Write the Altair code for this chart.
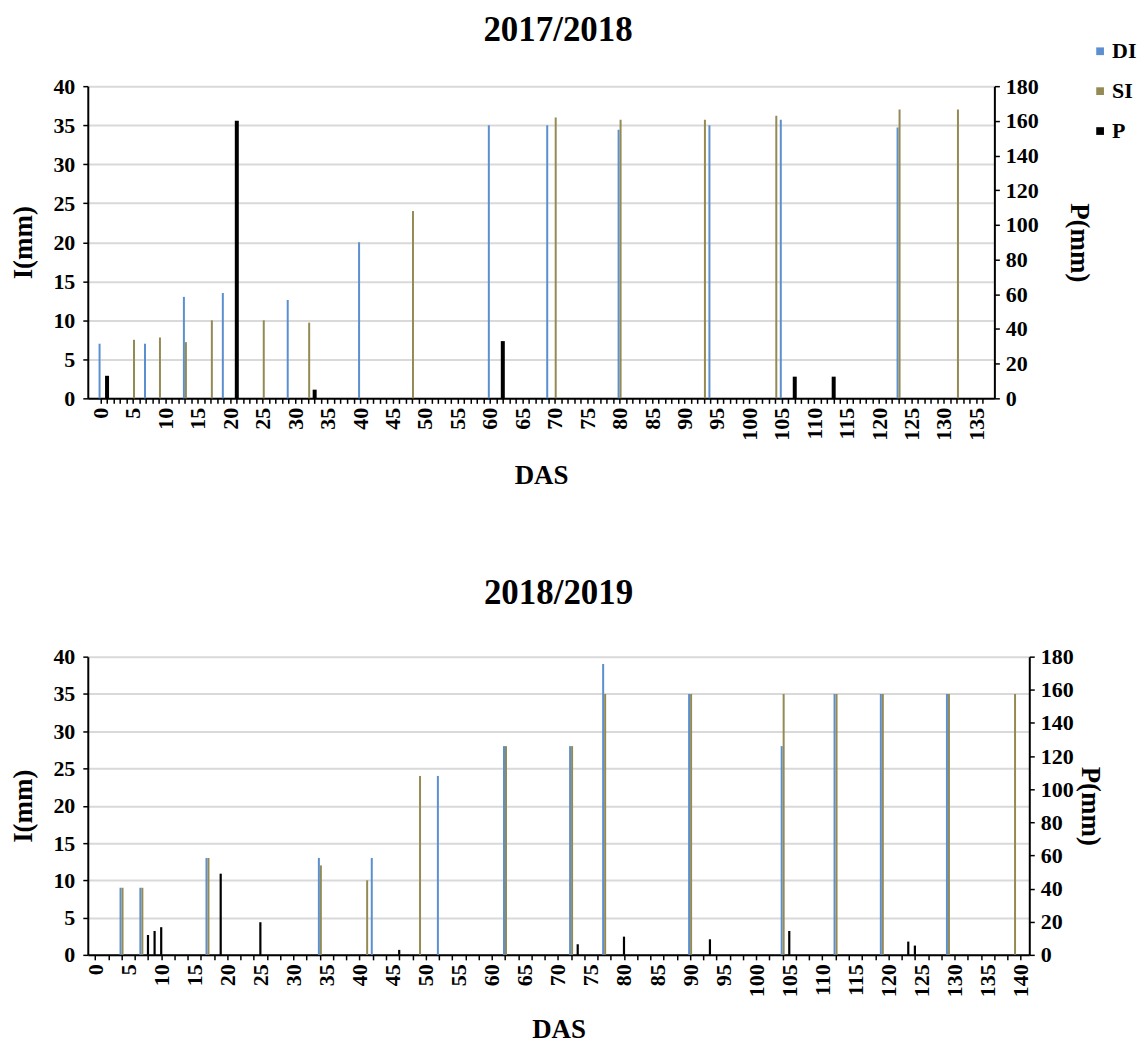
import altair as alt
import pandas as pd

FONT = "Liberation Serif"
DI_COLOR = "#5B8FD0"
SI_COLOR = "#948A54"
P_COLOR = "#000000"
GRID = "#D9D9D9"

# ---------------- 2017/2018 ----------------
di1_days = [0, 7, 13, 19, 29, 40, 60, 69, 80, 94, 105, 123]
di1_vals = [7, 7, 13, 13.5, 12.6, 20, 35, 35, 34.4, 35, 35.7, 34.7]
si1_days = [5, 9, 13, 17, 25, 32, 48, 70, 80, 93, 104, 123, 132]
si1_vals = [7.5, 7.8, 7.2, 10, 10, 9.7, 24, 36, 35.7, 35.7, 36.2, 37, 37]
p1_days = [1, 21, 33, 62, 107, 113]
p1_vals = [13, 160, 5, 33, 12.5, 12.5]

# ---------------- 2018/2019 ----------------
di2_days = [4, 7, 17, 34, 42, 52, 62, 72, 77, 90, 104, 112, 119, 129]
di2_vals = [9, 9, 13, 13, 13, 24, 28, 28, 39, 35, 28, 35, 35, 35]
si2_days = [4, 7, 17, 34, 41, 49, 62, 72, 77, 90, 104, 112, 119, 129, 139]
si2_vals = [9, 9, 13, 12, 10, 24, 28, 28, 35, 35, 35, 35, 35, 35, 35]
p2_days = [8, 9, 10, 19, 25, 46, 73, 80, 93, 105, 123, 124]
p2_vals = [12, 14.4, 16.7, 49, 19.7, 3, 6.4, 11, 9.4, 14.4, 8, 5.6]

series_names = ["DI", "SI", "P"]
series_colors = [DI_COLOR, SI_COLOR, P_COLOR]
i_ticks = list(range(0, 41, 5))
p_ticks = list(range(0, 181, 20))

LBL = dict(labelFont=FONT, labelFontSize=22, labelFontWeight="bold", labelColor="black",
           titleFont=FONT, titleFontSize=27, titleFontWeight="bold", titleColor="black")


def panel(title, di_days, di_vals, si_days, si_vals, p_days, p_vals,
          width, height, x_domain, x_tick_values, hide_odd_ticks, legend,
          dsw, pw, title_offset, title_dx, x_tpad, yl_tpad, yr_tpad):
    di = pd.DataFrame({"DAS": di_days, "value": di_vals, "series": "DI"})
    si = pd.DataFrame({"DAS": si_days, "value": si_vals, "series": "SI"})
    p = pd.DataFrame({"DAS": p_days, "value": p_vals, "series": "P"})

    axis_kw = dict(values=x_tick_values,
                   labelExpr="datum.value % 5 == 0 ? datum.label : ''",
                   labelAngle=-90, labelAlign="right", labelBaseline="middle",
                   labelPadding=4, labelOverlap=False, grid=False,
                   domainColor="black", domainWidth=2, tickColor="black",
                   tickWidth=1.5, tickSize=5, titlePadding=x_tpad, **LBL)
    if hide_odd_ticks:
        axis_kw["tickOpacity"] = {"condition": {"test": "datum.value % 2 != 0", "value": 0}, "value": 1}
    x = alt.X("DAS:Q", scale=alt.Scale(domain=x_domain, nice=False, zero=False),
              axis=alt.Axis(**axis_kw), title="DAS")

    y_i = alt.Y("value:Q", scale=alt.Scale(domain=[0, 40], nice=False),
                axis=alt.Axis(values=i_ticks, grid=True, gridColor=GRID, gridWidth=2,
                              domainColor="black", domainWidth=2, tickColor="black",
                              tickWidth=1.5, tickSize=5, labelPadding=8,
                              titlePadding=yl_tpad, **LBL),
                title="I(mm)")
    y_p = alt.Y("value:Q", scale=alt.Scale(domain=[0, 180], nice=False),
                axis=alt.Axis(values=p_ticks, grid=False, orient="right",
                              domainColor="black", domainWidth=2, tickColor="black",
                              tickWidth=1.5, tickSize=5, labelPadding=6,
                              titlePadding=yr_tpad, **LBL),
                title="P(mm)")

    if legend:
        cscale = alt.Scale(domain=series_names, range=series_colors)
        leg = alt.Legend(title=None, orient="none", legendX=1004, legendY=-46,
                         symbolType="square", symbolSize=60, symbolStrokeWidth=0,
                         labelFont=FONT, labelFontSize=22, labelFontWeight="bold",
                         labelColor="black", rowPadding=18, labelOffset=1, padding=0)
        col = alt.Color("series:N", scale=cscale, legend=leg)
        c_di = c_si = c_p = col
    else:
        c_di = alt.value(DI_COLOR)
        c_si = alt.value(SI_COLOR)
        c_p = alt.value(P_COLOR)

    l_di = alt.Chart(di).mark_bar(size=dsw, xOffset=-1).encode(x=x, y=y_i, color=c_di)
    l_si = alt.Chart(si).mark_bar(size=dsw, xOffset=1).encode(x=x, y=y_i, color=c_si)
    l_p = alt.Chart(p).mark_bar(size=pw).encode(x=x, y=y_p, color=c_p)

    return alt.layer(alt.layer(l_di, l_si), l_p).resolve_scale(y="independent").properties(
        width=width, height=height,
        title=alt.TitleParams(title, font=FONT, fontSize=35, fontWeight="bold",
                              color="black", anchor="middle", offset=title_offset,
                              dx=title_dx))


top = panel("2017/2018", di1_days, di1_vals, si1_days, si1_vals, p1_days, p1_vals,
            909, 313, [-1.2, 137.0], list(range(0, 137)), False, True, 2, 4,
            27, 17, 22, 15, 26)
bottom = panel("2018/2019", di2_days, di2_vals, si2_days, si2_vals, p2_days, p2_vals,
               944, 299, [-0.35, 140.55],
               sorted(set(range(0, 141, 2)) | set(range(0, 141, 5))), True, False, 2, 2.2,
               35, 0, 20, 15, 2)

chart = alt.concat(top, bottom, columns=1, spacing=88, align="none").configure_view(
    stroke=None).properties(padding={"left": 2, "top": 4, "right": 0, "bottom": -1})

chart.save("out.html", embed_options={"renderer": "svg", "actions": False})
